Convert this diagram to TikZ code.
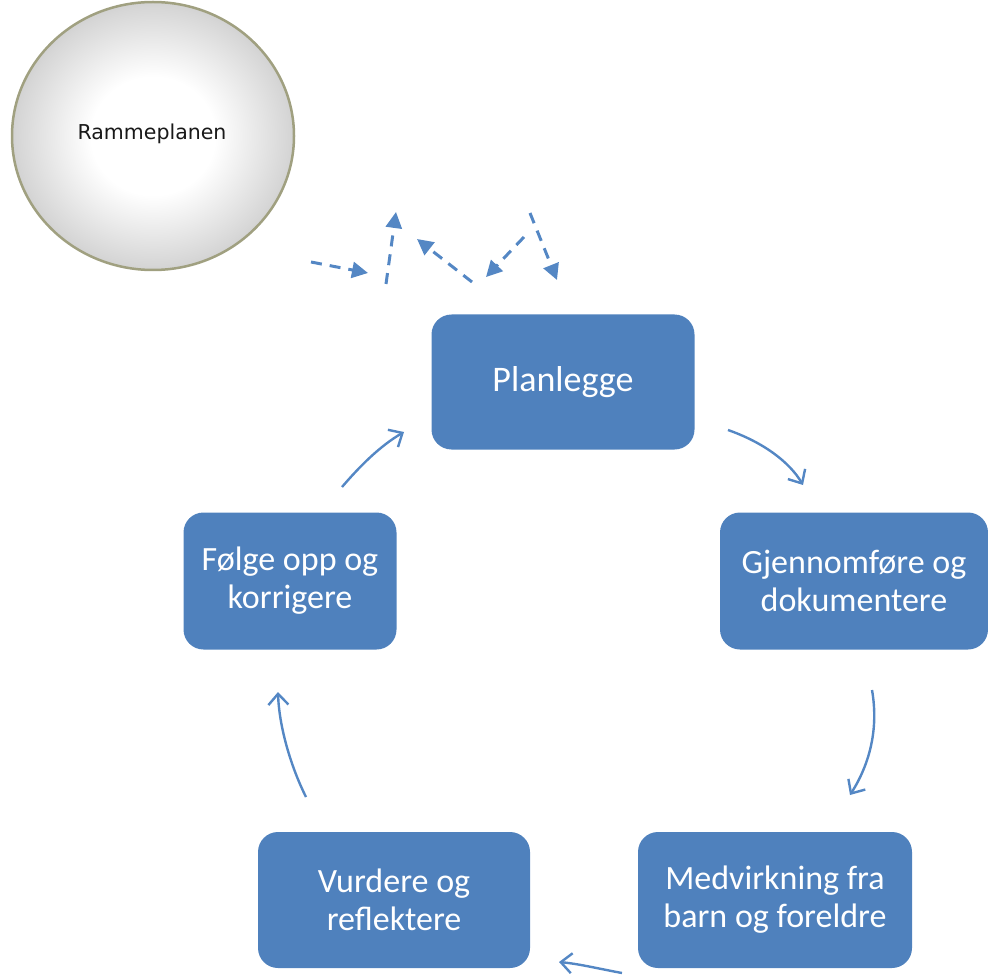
\documentclass[tikz,border=0pt]{standalone}
\usepackage{fontspec}
\setmainfont{Carlito}
\newfontfamily\circfont{DejaVu Sans}
\usetikzlibrary{arrows.meta,shapes.geometric}
\definecolor{boxblue}{RGB}{79,129,189}
\definecolor{arrblue}{RGB}{84,135,196}
\definecolor{olive}{RGB}{160,160,128}
\pgfdeclareradialshading{ballshade}{\pgfpoint{0bp}{0bp}}{%
  color(0bp)=(white); color(11bp)=(white); color(24bp)=(black!16); color(35bp)=(black!34); color(50bp)=(black!40)}
\tikzset{
  stepbox/.style={draw=none, fill=boxblue, rounded corners=20pt, text=white, align=center,
    font=\fontsize{34}{38}\selectfont, inner sep=0pt},
  cyc/.style={draw=arrblue, line width=2.4pt, -{Straight Barb[length=11pt,width=20pt,line width=2.4pt]}},
  dsh/.style={draw=arrblue, line width=3pt, dash pattern=on 11pt off 8pt, -{Triangle[length=16pt,width=16pt]}}
}
\begin{document}
\begin{tikzpicture}[x=1pt,y=-1pt]
\useasboundingbox (0,0) rectangle (988,976);
% circle
\shade[shading=ballshade, draw=olive, line width=2.5pt] (153,136) ellipse[x radius=141, y radius=134];
\node (circ) at (152,134) {\circfont\fontsize{20.5}{22}\selectfont\color{black!90}Rammeplanen};
% boxes
\node[stepbox, minimum width=263pt, minimum height=135pt, font=\fontsize{36}{40}\selectfont] (plan) at (563,382) {Planlegge};
\node[stepbox, minimum width=268pt, minimum height=137pt] (gjen) at (854,581) {Gjennomføre og\\dokumentere};
\node[stepbox, minimum width=274pt, minimum height=136pt] (medv) at (775,900) {Medvirkning fra\\barn og foreldre};
\node[stepbox, minimum width=272pt, minimum height=136pt] (vurd) at (394,900) {Vurdere og\\reflektere};
\node[stepbox, minimum width=213pt, minimum height=137pt] (folg) at (290,581) {Følge opp og\\korrigere};
% cycle arrow ends
\coordinate (a1s) at (728,430); \coordinate (a1e) at (803,485);
\coordinate (a2s) at (872,690); \coordinate (a2e) at (850,795);
\coordinate (a3s) at (622,973); \coordinate (a3e) at (559,962);
\coordinate (a4s) at (306,797); \coordinate (a4e) at (278,692);
\coordinate (a5s) at (342,487); \coordinate (a5e) at (404,432);
\draw[cyc] (a1s) .. controls (765,443) and (790,463) .. (a1e);
\draw[cyc] (a2s) .. controls (879,730) and (869,765) .. (a2e);
\draw[cyc] (a3s) .. controls (600,969) and (580,964) .. (a3e);
\draw[cyc] (a4s) .. controls (290,765) and (279,725) .. (a4e);
\draw[cyc] (a5s) .. controls (360,466) and (380,446) .. (a5e);
% dashed arrows
\coordinate (d1s) at (311,262); \coordinate (d1e) at (368,273);
\coordinate (d2s) at (386,284); \coordinate (d2e) at (396,212);
\coordinate (d3s) at (472,282); \coordinate (d3e) at (417,239);
\coordinate (d4s) at (524,237); \coordinate (d4e) at (486,277);
\coordinate (d5s) at (530,213); \coordinate (d5e) at (557,280);
\draw[dsh] (d1s) -- (d1e);
\draw[dsh] (d2s) -- (d2e);
\draw[dsh] (d3s) -- (d3e);
\draw[dsh] (d4s) -- (d4e);
\draw[dsh] (d5s) -- (d5e);
\end{tikzpicture}
\end{document}
